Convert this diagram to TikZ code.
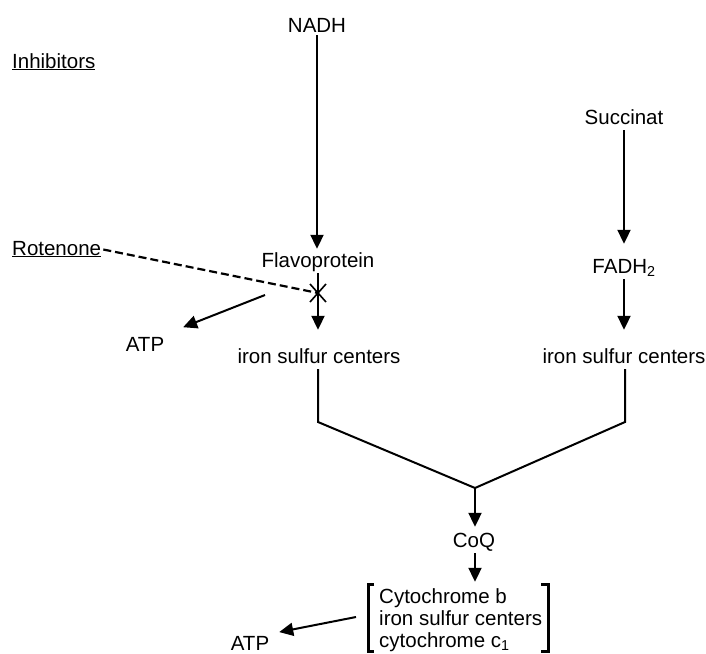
\documentclass[tikz,border=0pt]{standalone}
\usepackage{fontspec}
\setmainfont{Liberation Sans}
\usetikzlibrary{arrows.meta}
\begin{document}
\begin{tikzpicture}[x=1pt,y=-1pt,
  lbl/.style={inner sep=2pt,text height=15pt,text depth=4pt,font=\fontsize{20.5}{24}\selectfont},
  ln/.style={line width=2pt},
  arr/.style={line width=2pt,-{Triangle[length=14pt,width=13pt]}},
  brk/.style={line width=3pt}]
\useasboundingbox[fill=white] (0,0) rectangle (706,653);
% nodes (anchored at baselines)
\node[lbl,anchor=base] (nadh) at (317,32) {NADH};
\node[lbl,anchor=base west] (inhib) at (10,68) {\underline{Inhibitors}};
\node[lbl,anchor=base] (succ) at (624,124) {Succinat};
\node[lbl,anchor=base west] (roten) at (10,255) {\underline{Rotenone}};
\node[lbl,anchor=base] (flavo) at (318,267) {Flavoprotein};
\node[lbl,anchor=base] (fadh) at (624,273) {FADH\textsubscript{2}};
\node[lbl,anchor=base] (atpA) at (145,351) {ATP};
\node[lbl,anchor=base] (ironL) at (319,363) {iron sulfur centers};
\node[lbl,anchor=base] (ironR) at (624,363) {iron sulfur centers};
\node[lbl,anchor=base] (coq) at (474,547) {CoQ};
\node[lbl,anchor=base west] (cytA) at (377,603) {Cytochrome b};
\node[lbl,anchor=base west] (cytB) at (377,625) {iron sulfur centers};
\node[lbl,anchor=base west] (cytC) at (377,647) {cytochrome c\textsubscript{1}};
\node[lbl,anchor=base,inner sep=1pt,text depth=0pt] (atpB) at (250,650) {ATP};
% coordinates
\coordinate (blk) at (318,293);
\coordinate (atpsrc) at (265,295);
\coordinate (bendL) at (318,422);
\coordinate (bendR) at (625,422);
\coordinate (join) at (475,488);
\coordinate (coqbot) at (coq.south -| join);
\coordinate (brsrc) at (356,617);
% connectors
\draw[arr,shorten <=-3pt,shorten >=1pt] (nadh.south) -- (nadh.south |- flavo.north);
\draw[arr,shorten >=12pt] (succ.south) -- (fadh.north);
\draw[arr,shorten >=16pt] (flavo.south) -- (flavo.south |- ironL.north);
\draw[arr,shorten >=16pt] (fadh.south) -- (fadh.south |- ironR.north);
\draw[ln] (ironL.south -| bendL) -- (bendL) -- (join) -- (bendR) -- (ironR.south -| bendR);
\draw[arr,shorten >=3pt] (join) -- (join |- coq.north);
\draw[arr,shorten >=4pt] (coqbot) -- (coqbot |- cytA.north);
\draw[line width=2.2pt,dash pattern=on 8pt off 4pt] (roten.east) -- (blk);
\draw[line width=1.6pt] (blk) ++(-8,-9) -- ++(16,18);
\draw[line width=1.6pt] (blk) ++(8,-9) -- ++(-16,18);
\draw[arr,shorten >=18pt] (atpsrc) -- (atpA.north east);
\draw[arr,shorten >=9pt] (brsrc) -- (atpB.north east);
% brackets
\draw[brk] (374,584) -- (368,584) -- (368,651) -- (374,651);
\draw[brk] (541,584) -- (548,584) -- (548,651) -- (541,651);
\end{tikzpicture}
\end{document}
